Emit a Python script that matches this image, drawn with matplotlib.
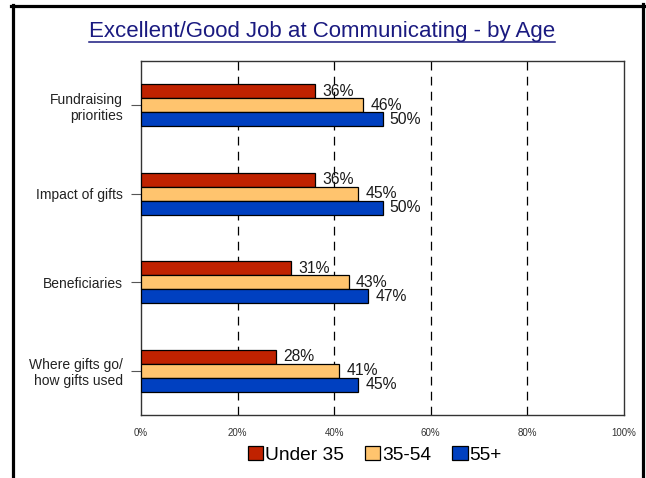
import numpy as np
import matplotlib.pyplot as plt
from matplotlib.lines import Line2D
from matplotlib.patches import Patch

plt.rcParams['font.family'] = ['Liberation Sans', 'DejaVu Sans']

categories = ['Fundraising\npriorities', 'Impact of gifts', 'Beneficiaries',
              'Where gifts go/\nhow gifts used']
under35 = [36, 36, 31, 28]
mid = [46, 45, 43, 41]
over55 = [50, 50, 47, 45]
series_names = ['Under 35', '35-54', '55+']
colors = ['#C02200', '#FFC46E', '#0040C0']
xticks = [0, 20, 40, 60, 80, 100]

fig = plt.figure(figsize=(6.46, 4.78), dpi=100)
ax = fig.add_axes([141 / 646, 1 - 415 / 478, 483 / 646, 354 / 478])

y = np.arange(len(categories))
h = 0.158
for i, (vals, c) in enumerate(zip([under35, mid, over55], colors)):
    pos = y + (i - 1) * h
    ax.barh(pos, vals, height=h, color=c, edgecolor='black', linewidth=0.9, zorder=3)
    for p, v in zip(pos, vals):
        ax.text(v + 1.5, p, f'{v}%', va='center', ha='left', fontsize=11.3,
                color='#1a1a1a', zorder=4)

ax.set_xlim(0, 100)
ax.set_ylim(3.5, -0.5)
ax.set_yticks(y)
ax.set_yticklabels(categories, fontsize=10, color='#222222', ha='right')
ax.set_xticks(xticks)
ax.set_xticklabels([f'{t}%' for t in xticks], fontsize=7, color='#333333')
ax.tick_params(axis='x', length=0, pad=9)
ax.tick_params(axis='y', length=7, width=0.8, color='#555555', pad=6)
for x in xticks[1:-1]:
    ax.axvline(x, color='black', lw=0.9, linestyle=(0, (7, 5)), zorder=1)
for s in ax.spines.values():
    s.set_color('#333333')
    s.set_linewidth(1)

handles = [Patch(facecolor=c, edgecolor='black', linewidth=0.9) for c in colors]
fig.legend(handles, series_names, loc='center', bbox_to_anchor=(375 / 646, 1 - 455 / 478),
           ncol=3, frameon=False, fontsize=13.8, handlelength=0.8, handleheight=0.7,
           handletextpad=0.1, columnspacing=1.1)

title = fig.text(322 / 646, 1 - 32 / 478, 'Excellent/Good Job at Communicating - by Age',
                 ha='center', va='center', fontsize=16, color='#1A1A80')

# page border (left, top, right)
lw = 2.3
fig.add_artist(Line2D([12.5 / 646] * 2, [0, 1 - 5 / 478], transform=fig.transFigure,
                      color='black', lw=lw))
fig.add_artist(Line2D([11 / 646, 645 / 646], [1 - 5.5 / 478] * 2, transform=fig.transFigure,
                      color='black', lw=lw))
fig.add_artist(Line2D([642.5 / 646] * 2, [0, 1 - 4 / 478], transform=fig.transFigure,
                      color='black', lw=lw))

# underline the title
fig.canvas.draw()
bb = title.get_window_extent(fig.canvas.get_renderer())
uy = (bb.y0 + 1) / fig.bbox.height
fig.add_artist(Line2D([bb.x0 / fig.bbox.width, bb.x1 / fig.bbox.width], [uy, uy],
                      transform=fig.transFigure, color='#1A1A80', lw=1.1))

fig.savefig('out.png', dpi=100)
